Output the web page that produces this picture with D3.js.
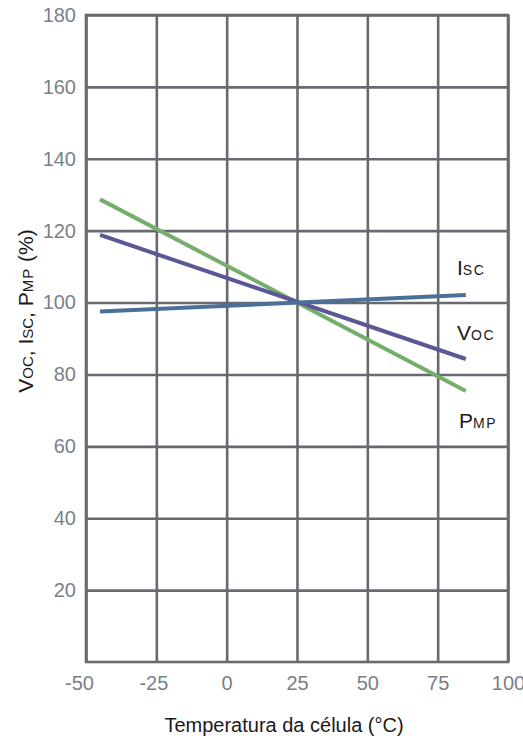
<!DOCTYPE html>
<html>
<head>
<meta charset="utf-8">
<script src="https://cdn.jsdelivr.net/npm/d3@7"></script>
<style>
	body { margin: 0; background: #fff; }
	svg { display: block; font-family: "Liberation Sans", Arial, sans-serif; }
</style>
</head>
<body>
<svg id="chart"></svg>
<script>
// chart values
const xTicks = [-50, -25, 0, 25, 50, 75, 100];
const yTicks = [20, 40, 60, 80, 100, 120, 140, 160, 180];
const temps = [-45, 85];
const isc = [97.5, 102.1];
const voc = [118.8, 84.3];
const pmp = [128.7, 75.4];
const seriesNames = ["PMP", "VOC", "ISC"];

document.addEventListener("DOMContentLoaded", function () {
	const w = 523;
	const h = 740;
	const margin = { top: 15, right: 15, bottom: 78, left: 86 };

	const svg = d3.select("#chart").attr("width", w).attr("height", h);

	const xScale = d3.scaleLinear().domain([-50, 100]).range([margin.left, w - margin.right]);
	const yScale = d3.scaleLinear().domain([0, 180]).range([h - margin.bottom, margin.top]);

	const gridColor = "#676a70";
	const tickColor = "#7a7f88";

	// vertical grid lines + x labels (plain hyphen for the minus sign, like the original)
	const xAxis = d3.axisBottom(xScale)
		.tickValues(xTicks)
		.tickSize(-(yScale(0) - yScale(180)))
		.tickPadding(14)
		.tickFormat((d) => String(d));
	const gx = svg.append("g")
		.attr("transform", "translate(0," + yScale(0) + ")")
		.call(xAxis);
	gx.select(".domain").remove();
	gx.selectAll(".tick line").attr("stroke", gridColor).attr("stroke-width", 2.6);
	gx.selectAll(".tick text")
		.attr("fill", tickColor)
		.style("font-size", "20px")
		.attr("dx", (d) => (d === -50 ? -7 : d === -25 ? -3 : 0));

	// horizontal grid lines + y labels
	const yAxis = d3.axisLeft(yScale)
		.tickValues(yTicks)
		.tickSize(-(xScale(100) - xScale(-50)))
		.tickPadding(10);
	const gy = svg.append("g")
		.attr("transform", "translate(" + xScale(-50) + ",0)")
		.call(yAxis);
	gy.select(".domain").remove();
	gy.selectAll(".tick line").attr("stroke", gridColor).attr("stroke-width", 2.6);
	gy.selectAll(".tick text").attr("fill", tickColor).style("font-size", "20px");

	// outer frame
	svg.append("rect")
		.attr("x", xScale(-50))
		.attr("y", yScale(180))
		.attr("width", xScale(100) - xScale(-50))
		.attr("height", yScale(0) - yScale(180))
		.attr("fill", "none")
		.attr("stroke", gridColor)
		.attr("stroke-width", 2.6);

	// lines, drawn green first so blue sits on top
	const lineGen = d3.line()
		.x((d) => xScale(d[0]))
		.y((d) => yScale(d[1]));
	const series = [
		{ name: seriesNames[0], values: pmp, color: "#75ad6b" },
		{ name: seriesNames[1], values: voc, color: "#5c5797" },
		{ name: seriesNames[2], values: isc, color: "#4a6f99" },
	];
	series.forEach((s) => {
		svg.append("path")
			.datum(temps.map((t, i) => [t, s.values[i]]))
			.attr("d", lineGen)
			.attr("fill", "none")
			.attr("stroke", s.color)
			.attr("stroke-width", 4);
	});

	// labels next to the line ends
	function subLabel(x, y, main, sub) {
		const t = svg.append("text")
			.attr("x", x)
			.attr("y", y)
			.attr("fill", "#1a1a1a")
			.style("font-size", "21px");
		t.append("tspan").text(main);
		t.append("tspan").style("font-size", "14px").attr("letter-spacing", 1.5).text(sub);
		return t;
	}
	subLabel(457, 275, "I", "SC");
	subLabel(457, 340, "V", "OC");
	subLabel(459, 428, "P", "MP");

	// x axis title
	svg.append("text")
		.attr("x", 284)
		.attr("y", 732)
		.attr("text-anchor", "middle")
		.attr("fill", "#1a1a1a")
		.style("font-size", "20px")
		.text("Temperatura da célula (°C)");

	// y axis title
	const yt = svg.append("text")
		.attr("transform", "translate(33," + 311 + ") rotate(-90)")
		.attr("text-anchor", "middle")
		.attr("fill", "#1a1a1a")
		.style("font-size", "21px");
	yt.append("tspan").text("V");
	yt.append("tspan").style("font-size", "15px").text("OC");
	yt.append("tspan").text(", I");
	yt.append("tspan").style("font-size", "15px").text("SC");
	yt.append("tspan").text(", P");
	yt.append("tspan").style("font-size", "15px").attr("letter-spacing", 1).text("MP");
	yt.append("tspan").text(" (%)");
});
</script>
</body>
</html>
